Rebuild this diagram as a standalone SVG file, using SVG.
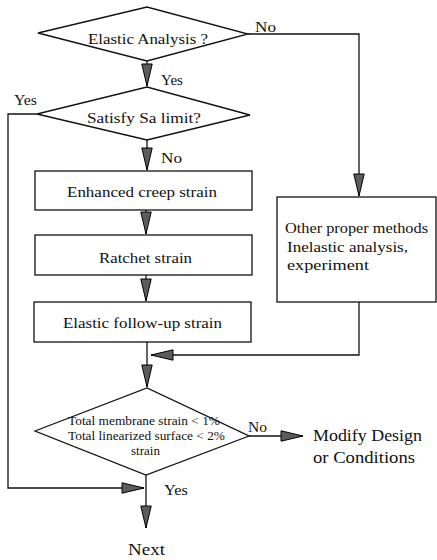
<svg xmlns="http://www.w3.org/2000/svg" width="437" height="560" viewBox="0 0 437 560" font-family="'Liberation Serif', 'Times New Roman', serif">
<style>
  .shape { fill: #fff; stroke: #111; stroke-width: 1.3; }
  .conn { fill: none; stroke: #111; stroke-width: 1.3; marker-end: url(#ah); }
  text { font-family: "Liberation Serif", "Times New Roman", serif; fill: #111; }
  .t15 { font-family: "Liberation Serif", serif; font-size: 15px; }
  .t12 { font-family: "Liberation Serif", serif; font-size: 12px; }
  .t14 { font-family: "Liberation Serif", serif; font-size: 14px; }
  .t17 { font-family: "Liberation Serif", serif; font-size: 17px; }
</style>
<defs>
  <marker id="ah" markerWidth="24" markerHeight="13" refX="22" refY="6" orient="auto" markerUnits="userSpaceOnUse" overflow="visible">
    <path d="M0,0.8 L22,6 L0,11.2 Z" fill="#5c5c5c" stroke="#000" stroke-width="1"/>
  </marker>
</defs>
<rect width="437" height="560" fill="#fff"/>

<g id="connectors">
  <polyline class="conn" points="147,61 147,86"/>
  <polyline class="conn" points="248,34 359,34 359,196"/>
  <polyline class="conn" points="147,140 147,170"/>
  <polyline class="conn" points="37,114 8,114 8,488 144,488"/>
  <polyline class="conn" points="146,210 146,234"/>
  <polyline class="conn" points="146,275 146,301"/>
  <polyline class="conn" points="147,342 147,387"/>
  <polyline class="conn" points="359,302 359,355 151,355"/>
  <polyline class="conn" points="249,436 303,436"/>
  <polyline class="conn" points="146,475 146,528"/>
  <text class="t14" x="255" y="32" textLength="21" lengthAdjust="spacingAndGlyphs">No</text>
  <text class="t14" x="161" y="85" textLength="22" lengthAdjust="spacingAndGlyphs">Yes</text>
  <text class="t14" x="14" y="105" textLength="23" lengthAdjust="spacingAndGlyphs">Yes</text>
  <text class="t14" x="161" y="163" textLength="21" lengthAdjust="spacingAndGlyphs">No</text>
  <text class="t14" x="248" y="432" textLength="19" lengthAdjust="spacingAndGlyphs">No</text>
  <text class="t14" x="164" y="495" textLength="24" lengthAdjust="spacingAndGlyphs">Yes</text>
</g>

<g id="elastic-analysis">
  <polygon class="shape" points="38,33 147,7 248,34 147,61"/>
  <text class="t15" x="88" y="44" textLength="120" lengthAdjust="spacingAndGlyphs">Elastic Analysis ?</text>
</g>

<g id="satisfy-sa">
  <polygon class="shape" points="37,114 147,87 250,115 147,140"/>
  <text class="t15" x="87" y="123" textLength="114" lengthAdjust="spacingAndGlyphs">Satisfy Sa limit?</text>
</g>

<g id="enhanced-creep">
  <rect class="shape" x="35" y="171" width="217" height="39"/>
  <text class="t15" x="67" y="197" textLength="150" lengthAdjust="spacingAndGlyphs">Enhanced creep strain</text>
</g>

<g id="ratchet">
  <rect class="shape" x="35" y="235" width="217" height="40"/>
  <text class="t15" x="99" y="263" textLength="93" lengthAdjust="spacingAndGlyphs">Ratchet strain</text>
</g>

<g id="elastic-follow-up">
  <rect class="shape" x="34" y="302" width="217" height="40"/>
  <text class="t15" x="63" y="328" textLength="159" lengthAdjust="spacingAndGlyphs">Elastic follow-up strain</text>
</g>

<g id="other-methods">
  <rect class="shape" x="277" y="197" width="159" height="105"/>
  <text class="t15" x="285" y="233" textLength="143" lengthAdjust="spacingAndGlyphs">Other proper methods</text>
  <text class="t15" x="287" y="252" textLength="121" lengthAdjust="spacingAndGlyphs">Inelastic analysis,</text>
  <text class="t15" x="287" y="270" textLength="82" lengthAdjust="spacingAndGlyphs">experiment</text>
</g>

<g id="total-strain">
  <polygon class="shape" points="35,431 147,388 249,436 146,475"/>
  <text class="t12" x="68" y="425" textLength="152" lengthAdjust="spacingAndGlyphs">Total membrane strain &lt; 1%</text>
  <text class="t12" x="68" y="440" textLength="157" lengthAdjust="spacingAndGlyphs">Total linearized surface &lt; 2%</text>
  <text class="t12" x="131" y="455" textLength="29" lengthAdjust="spacingAndGlyphs">strain</text>
</g>

<g id="modify-design">
  <text class="t17" x="313" y="441" textLength="109" lengthAdjust="spacingAndGlyphs">Modify Design</text>
  <text class="t17" x="313" y="463" textLength="102" lengthAdjust="spacingAndGlyphs">or Conditions</text>
</g>

<g id="next">
  <text class="t17" x="128" y="555" textLength="37" lengthAdjust="spacingAndGlyphs">Next</text>
</g>
</svg>
